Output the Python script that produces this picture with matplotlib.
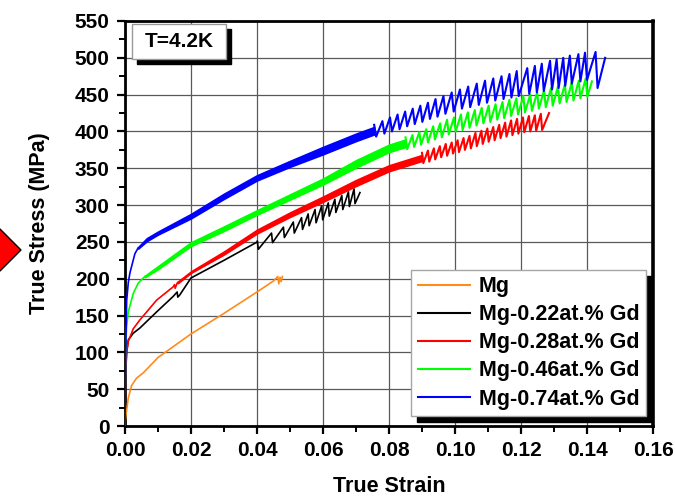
import matplotlib
matplotlib.use("Agg")
import matplotlib.pyplot as plt
from matplotlib.patches import Polygon, Rectangle
from matplotlib.ticker import MultipleLocator

plt.rcParams['font.family'] = ['Liberation Sans', 'DejaVu Sans']
plt.rcParams['font.weight'] = 'bold'

# ---- values: true strain, true stress [MPa] ----

labels = ['Mg', 'Mg-0.22at.% Gd', 'Mg-0.28at.% Gd', 'Mg-0.46at.% Gd', 'Mg-0.74at.% Gd']
colors = ['#FF8C1A', 'black', '#FF0000', '#00FF00', '#0000FF']

# Mg
mg_strain = [0, 0.0003, 0.001, 0.002, 0.0035, 0.0055, 0.01, 0.02, 0.03, 0.04, 0.045,
             0.0463, 0.0466, 0.0470, 0.0473, 0.0477]
mg_stress = [5, 15, 38, 55, 65, 72, 93, 125, 153, 182, 197,
             203, 193, 202, 196, 203]

# Mg-0.22at.% Gd
gd22_strain = [0, 0.0002, 0.0005, 0.001, 0.0025, 0.0045, 0.0096, 0.0146, 0.0158, 0.0160,
               0.0166, 0.02, 0.03, 0.0401]
gd22_stress = [0, 70, 100, 117, 126, 133, 155, 176, 182, 175,
               178, 201, 225, 250]
gd22_tooth_e = [0.0401, 0.0444, 0.0480, 0.0510, 0.0535, 0.0555, 0.0576, 0.0596, 0.0616,
                0.0636, 0.0657, 0.0677, 0.0694]
gd22_tooth_top = [251, 262, 270, 277, 283, 288, 294, 299, 303, 308, 313, 318, 322]
gd22_tooth_bot = [240, 249, 256, 262, 267, 272, 276, 280, 285, 290, 294, 298, 302]
gd22_end = (0.0712, 317)

# Mg-0.28at.% Gd
gd28_strain = [0, 0.0002, 0.0005, 0.001, 0.0025, 0.0045, 0.0096, 0.0146, 0.0150, 0.0152,
               0.0158, 0.016]
gd28_stress = [0, 80, 100, 115, 132, 144, 171, 189, 192, 187,
               194, 195]
gd28_band_e = [0.016, 0.02, 0.03, 0.04, 0.05, 0.06, 0.07, 0.08, 0.09]
gd28_band_lo = [194, 208, 233, 261.5, 284, 304.5, 326, 346, 360]
gd28_band_hi = [196, 210, 237, 266.5, 290, 311.5, 334, 354, 368]
gd28_tooth_e = [0.0900, 0.0918, 0.0936, 0.0954, 0.0972, 0.0990, 0.1008, 0.1026, 0.1044,
                0.1062, 0.1080, 0.1098, 0.1116, 0.1134, 0.1152, 0.1170, 0.1188, 0.1206,
                0.1224, 0.1242, 0.1260]
gd28_tooth_top = [371, 374, 377, 380, 383, 385, 388, 391, 394, 398, 401, 404, 406, 409,
                  412, 415, 417, 419, 421, 422, 424]
gd28_tooth_bot = [357, 359, 362, 365, 367, 370, 372, 375, 377, 380, 383, 386, 388, 391,
                  393, 395, 397, 399, 400, 401, 402]
gd28_end = (0.1285, 425)

# Mg-0.46at.% Gd
gd46_strain = [0, 0.0002, 0.0005, 0.001, 0.0025, 0.004, 0.006]
gd46_stress = [0, 110, 135, 155, 180, 194, 203]
gd46_band_e = [0.006, 0.01, 0.02, 0.03, 0.04, 0.05, 0.06, 0.07, 0.08, 0.085]
gd46_band_lo = [202, 213, 244.5, 265, 287, 307.5, 328, 351, 372, 379]
gd46_band_hi = [204, 217, 249.5, 271, 293, 314.5, 336, 361, 382, 389]
gd46_tooth_e = [0.0850, 0.0871, 0.0892, 0.0913, 0.0934, 0.0955, 0.0976, 0.0997, 0.1018,
                0.1039, 0.1060, 0.1081, 0.1102, 0.1123, 0.1144, 0.1165, 0.1186, 0.1207,
                0.1228, 0.1249, 0.1270, 0.1291, 0.1312, 0.1333, 0.1354, 0.1375, 0.1396]
gd46_tooth_top = [392, 395, 399, 403, 407, 411, 416, 419, 423, 426, 429, 432, 435, 437,
                  440, 443, 445, 448, 450, 453, 456, 459, 461, 464, 467, 469, 472]
gd46_tooth_bot = [376, 379, 382, 385, 389, 392, 396, 400, 402, 405, 408, 411, 413, 416,
                  418, 421, 423, 426, 428, 431, 433, 435, 438, 440, 442, 445, 447]
gd46_end = (0.1415, 468)

# Mg-0.74at.% Gd
gd74_strain = [0, 0.0002, 0.0005, 0.001, 0.0015, 0.003, 0.004]
gd74_stress = [0, 100, 170, 195, 208, 234, 242]
gd74_band_e = [0.004, 0.0066, 0.01, 0.02, 0.03, 0.04, 0.05, 0.06, 0.07, 0.0755]
gd74_band_lo = [241, 251, 260, 282, 308.5, 333.5, 352, 369, 387, 396]
gd74_band_hi = [243, 255, 264, 288, 315.5, 340.5, 360, 379, 397, 406]
gd74_tooth_e = [0.0755, 0.0780, 0.0803, 0.0826, 0.0849, 0.0872, 0.0895, 0.0918, 0.0941,
                0.0965, 0.0990, 0.1015, 0.1040, 0.1066, 0.1091, 0.1116, 0.1141, 0.1165,
                0.1187, 0.1219, 0.1242, 0.1263, 0.1288, 0.1308, 0.1328, 0.1348, 0.1374,
                0.1394, 0.1426]
gd74_tooth_top = [409, 414, 419, 423, 427, 431, 435, 439, 444, 448, 453, 457, 461, 465,
                  469, 472, 475, 478, 482, 486, 489, 492, 496, 498, 500, 503, 505, 507, 508]
gd74_tooth_bot = [393, 397, 400, 403, 407, 410, 413, 417, 420, 424, 427, 431, 433, 436,
                  439, 442, 444, 446, 448, 451, 453, 455, 457, 459, 462, 465, 468, 470, 459]
gd74_end = (0.1455, 500)


def zigzag(tooth_e, top, bot, drop, end):
    # rise to each peak, drop a little further on, finish at the last point
    xs, ys = [], []
    for e, hi, lo in zip(tooth_e, top, bot):
        xs += [e, e + drop]
        ys += [hi, lo]
    xs.append(end[0])
    ys.append(end[1])
    return xs, ys


fig = plt.figure(figsize=(6.75, 4.98), dpi=100)
ax = fig.add_axes([125 / 675, 1 - 426 / 498, 528 / 675, 405 / 498])

lw = 1.2
tlw = 1.5
z = 3

# Mg
ax.plot(mg_strain, mg_stress, color=colors[0], lw=lw, zorder=z, label=labels[0])

# 0.22
ax.plot(gd22_strain, gd22_stress, color=colors[1], lw=lw, zorder=z, label=labels[1])
x, y = zigzag(gd22_tooth_e, gd22_tooth_top, gd22_tooth_bot, 0.0003, gd22_end)
ax.plot(x, y, color=colors[1], lw=lw, zorder=z)

# 0.28
ax.plot(gd28_strain, gd28_stress, color=colors[2], lw=lw, zorder=z, label=labels[2])
ax.fill_between(gd28_band_e, gd28_band_lo, gd28_band_hi, color=colors[2], lw=1.2, zorder=z)
x, y = zigzag(gd28_tooth_e, gd28_tooth_top, gd28_tooth_bot, 0.0004, gd28_end)
ax.plot(x, y, color=colors[2], lw=tlw, zorder=z)

# 0.46
ax.plot(gd46_strain, gd46_stress, color=colors[3], lw=lw, zorder=z, label=labels[3])
ax.fill_between(gd46_band_e, gd46_band_lo, gd46_band_hi, color=colors[3], lw=1.2, zorder=z)
x, y = zigzag(gd46_tooth_e, gd46_tooth_top, gd46_tooth_bot, 0.0005, gd46_end)
ax.plot(x, y, color=colors[3], lw=tlw, zorder=z)

# 0.74
ax.plot(gd74_strain, gd74_stress, color=colors[4], lw=lw, zorder=z, label=labels[4])
ax.fill_between(gd74_band_e, gd74_band_lo, gd74_band_hi, color=colors[4], lw=1.2, zorder=z)
x, y = zigzag(gd74_tooth_e, gd74_tooth_top, gd74_tooth_bot, 0.0006, gd74_end)
ax.plot(x, y, color=colors[4], lw=tlw, zorder=z)

ax.set_xlim(0, 0.16)
ax.set_ylim(0, 550)
ax.xaxis.set_major_locator(MultipleLocator(0.02))
ax.xaxis.set_minor_locator(MultipleLocator(0.01))
ax.yaxis.set_major_locator(MultipleLocator(50))
ax.yaxis.set_minor_locator(MultipleLocator(25))
ax.xaxis.set_major_formatter(lambda v, p: f'{v:.2f}')
ax.grid(which='major', color='0.35', lw=0.9)
ax.set_axisbelow(True)

ax.tick_params(which='major', direction='out', length=6, width=1.6, labelsize=15, pad=5)
ax.tick_params(which='minor', direction='out', length=4, width=1.4)
for s in ax.spines.values():
    s.set_linewidth(2)
ax.spines['right'].set_linewidth(2.6)

ax.set_xlabel('True Strain', fontsize=15.5, fontweight='bold', labelpad=11)
ax.set_ylabel('True Stress (MPa)', fontsize=15.5, fontweight='bold', labelpad=18)

leg = ax.legend(loc='lower right', bbox_to_anchor=(0.987, 0.0247), borderaxespad=0,
                fontsize=15.5, frameon=True, fancybox=False, framealpha=1,
                edgecolor='0.65', handlelength=2.45, handletextpad=0.4,
                labelspacing=0.33, borderpad=0.3,
                shadow={'ox': 4.3, 'oy': -4.3, 'facecolor': 'black',
                        'edgecolor': 'black', 'alpha': 1})
for h in leg.get_lines():
    h.set_linewidth(1.5)
leg.get_frame().set_linewidth(1.0)

# T=4.2K label with a drop shadow
ax.add_patch(Rectangle((0.0133 + 0.0095, 0.906 - 0.0123), 0.178, 0.0866,
                       transform=ax.transAxes, fc='black', ec='black', zorder=5))
ax.add_patch(Rectangle((0.0133, 0.906), 0.178, 0.0866,
                       transform=ax.transAxes, fc='white', ec='0.6', lw=1, zorder=6))
ax.text(0.1023, 0.949, 'T=4.2K', transform=ax.transAxes, ha='center', va='center',
        fontsize=15, fontweight='bold', zorder=7)

# red marker cut by the left edge of the figure
fig.add_artist(Polygon([(-0.0311, 0.498), (0.0, 0.498 + 0.0422), (0.0311, 0.498),
                        (0.0, 0.498 - 0.0422)], closed=True, transform=fig.transFigure,
                       fc='#FF0000', ec='black', lw=1.0))

fig.savefig('out.png', dpi=100)
